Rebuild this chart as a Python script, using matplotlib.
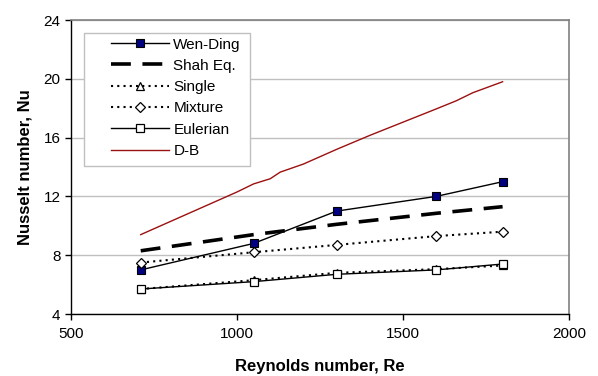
import matplotlib
matplotlib.use("Agg")
import matplotlib.pyplot as plt
from matplotlib.patches import Rectangle

plt.rcParams["font.family"] = ["Liberation Sans", "DejaVu Sans"]

# Reynolds numbers of the simulated / measured points
re_pts = [710, 1050, 1300, 1600, 1800]

wen_ding = [7.0, 8.8, 11.0, 12.0, 13.0]
shah_eq = [8.3, 9.4, 10.1, 10.85, 11.3]
single = [5.7, 6.3, 6.8, 7.05, 7.3]
mixture = [7.5, 8.2, 8.7, 9.3, 9.6]
eulerian = [5.7, 6.2, 6.7, 7.0, 7.4]

# D-B correlation, read at more points along the curve
re_db = [710, 1000, 1050, 1100, 1130, 1200, 1300, 1400, 1500, 1600, 1660, 1710, 1800]
db = [9.4, 12.3, 12.85, 13.2, 13.65, 14.2, 15.2, 16.15, 17.05, 17.95, 18.5, 19.05, 19.8]

x_ticks = [500, 1000, 1500, 2000]
y_ticks = [4, 8, 12, 16, 20, 24]

fig = plt.figure(figsize=(5.98, 3.76), dpi=100)
ax = fig.add_axes([71 / 598, 1 - 314 / 376, 498 / 598, 294 / 376])

ax.plot(re_pts, wen_ding, color="black", lw=1, marker="s", ms=5.5,
        mfc="#000080", mec="black", mew=0.8, label="Wen-Ding")
ax.plot(re_pts, shah_eq, color="black", lw=2.6, dashes=(5.5, 3.2), label="Shah Eq.")
ax.plot(re_pts, single, color="black", lw=1.5, dashes=(1, 2), marker="^", ms=6,
        mfc="white", mec="black", mew=0.9, label="Single")
ax.plot(re_pts, mixture, color="black", lw=1.5, dashes=(1, 2), marker="D", ms=5,
        mfc="white", mec="black", mew=0.9, label="Mixture")
ax.plot(re_pts, eulerian, color="black", lw=1, marker="s", ms=5.5,
        mfc="white", mec="black", mew=0.9, label="Eulerian")
ax.plot(re_db, db, color="#9b1010", lw=1, label="D-B")

ax.set_xlim(500, 2000)
ax.set_ylim(4, 24)
ax.set_xticks(x_ticks)
ax.set_yticks(y_ticks)
ax.tick_params(labelsize=11, length=4, width=1, direction="out", colors="black")
ax.tick_params(axis="x", pad=5)
ax.yaxis.grid(True, color="#c0c0c0", lw=1)
ax.set_axisbelow(True)

for side in ["top", "right"]:
    ax.spines[side].set_color("#808080")
    ax.spines[side].set_linewidth(1.2)
for side in ["left", "bottom"]:
    ax.spines[side].set_color("black")
    ax.spines[side].set_linewidth(1)

ax.set_xlabel("Reynolds number, Re", fontsize=12, fontweight="bold", labelpad=13)
ax.set_ylabel("Nusselt number, Nu", fontsize=12, fontweight="bold", labelpad=8)

# legend frame drawn separately so the handles can sit further in
ax.add_patch(Rectangle((13 / 498, 148 / 294), 166 / 498, 133.3 / 294,
                       transform=ax.transAxes, fill=True, facecolor="white",
                       edgecolor="#c0c0c0", lw=1, zorder=5))
leg = ax.legend(loc="upper left", bbox_to_anchor=(39.7 / 498, 276.5 / 294),
                frameon=False, fontsize=11, borderpad=0, borderaxespad=0,
                handlelength=3.8, handletextpad=0.3, labelspacing=0.48)
leg.set_zorder(6)

fig.savefig("out.png", dpi=100)
